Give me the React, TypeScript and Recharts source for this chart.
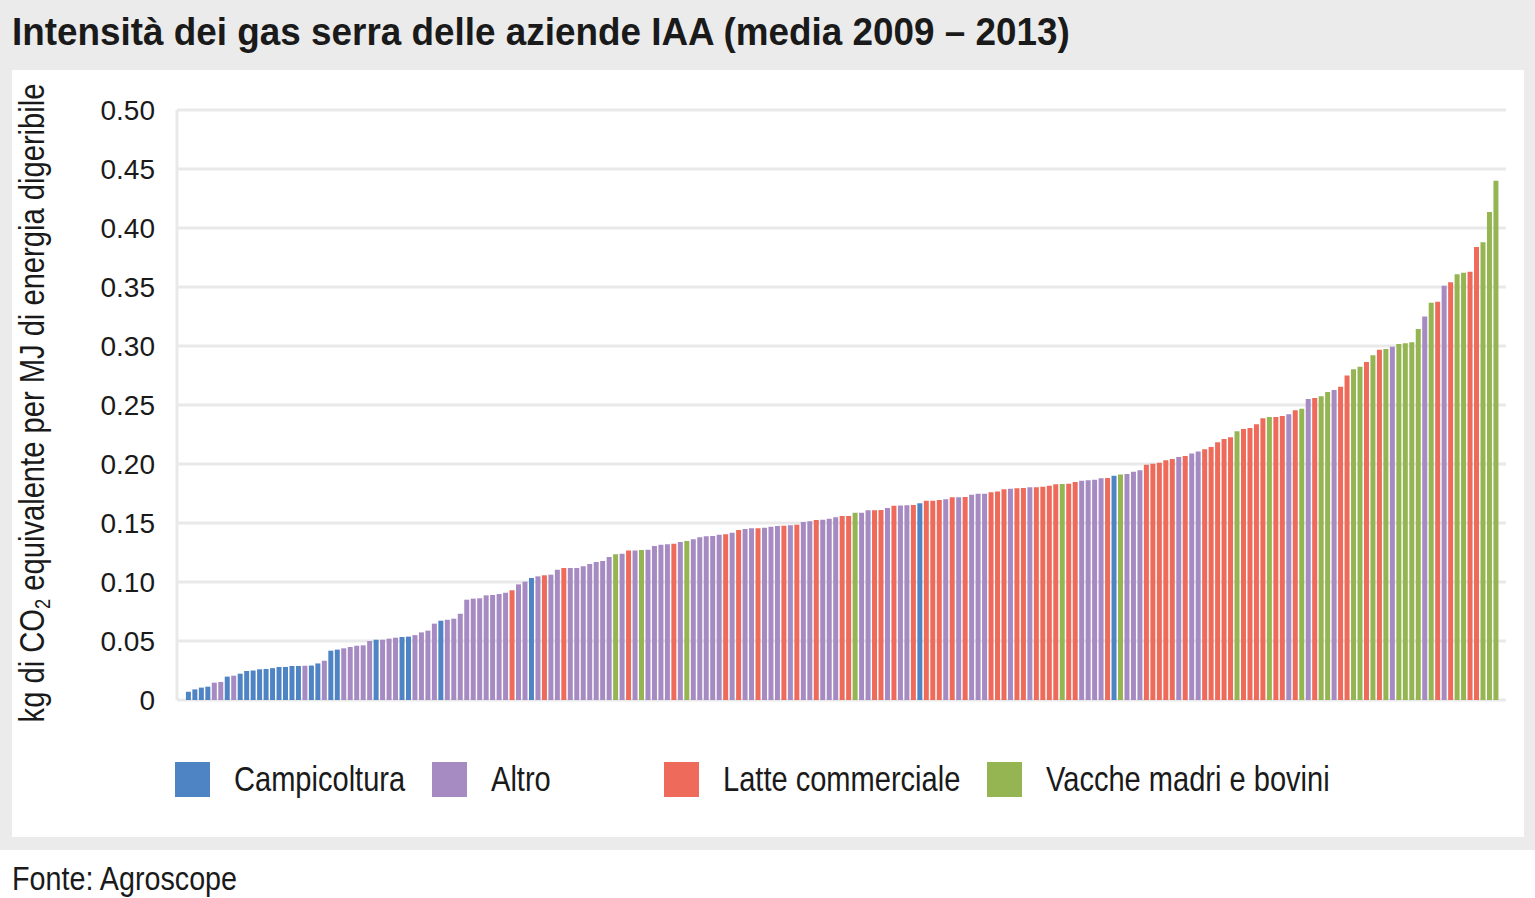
import React from "react";
import { BarChart, Bar, Cell, XAxis, YAxis, CartesianGrid, Label } from "recharts";

// ---- data ----
const GROUP_KEYS = ["C", "A", "L", "V"];
const GROUP_NAMES = ["Campicoltura", "Altro", "Latte commerciale", "Vacche madri e bovini"];
const GROUP_COLORS = ["#4f84c4", "#a68bc3", "#ee6b5b", "#95b553"];

const FARM_GROUP = [
  "C","C","C","C","A","A","C","A","C","C","C","C","C","C","C","C","C","C","A","C",
  "C","A","C","C","A","A","A","A","A","C","A","A","A","C","C","A","A","A","A","C",
  "A","A","A","A","A","A","A","A","A","A","L","A","A","C","A","L","A","A","L","A",
  "A","A","A","A","A","A","V","A","L","A","V","A","A","A","A","L","A","V","A","A",
  "A","A","A","L","A","L","A","A","L","A","A","A","L","A","L","A","A","L","A","A",
  "A","L","L","V","A","A","L","L","A","L","A","A","L","C","L","L","L","A","L","A",
  "L","A","A","A","L","L","L","A","L","L","A","L","L","L","L","V","L","L","A","A",
  "A","A","L","C","V","A","A","A","L","L","L","L","L","A","L","A","A","L","L","L",
  "L","L","V","L","L","L","L","V","L","L","A","L","V","A","L","V","V","A","L","L",
  "V","V","L","V","L","V","A","V","V","V","V","A","V","L","A","L","V","V","L","L",
  "V","V","V",
];

const FARM_VALUE = [
  0.0070, 0.0090, 0.0105, 0.0113, 0.0147, 0.0153, 0.0198, 0.0206, 0.0223, 0.0246,
  0.0250, 0.0260, 0.0263, 0.0270, 0.0280, 0.0280, 0.0288, 0.0288, 0.0290, 0.0292,
  0.0310, 0.0333, 0.0418, 0.0427, 0.0438, 0.0449, 0.0460, 0.0463, 0.0500, 0.0511,
  0.0511, 0.0520, 0.0528, 0.0534, 0.0537, 0.0550, 0.0573, 0.0588, 0.0647, 0.0672,
  0.0680, 0.0689, 0.0731, 0.0850, 0.0859, 0.0862, 0.0887, 0.0890, 0.0898, 0.0909,
  0.0930, 0.0980, 0.1003, 0.1034, 0.1048, 0.1057, 0.1062, 0.1104, 0.1119, 0.1119,
  0.1119, 0.1133, 0.1153, 0.1170, 0.1178, 0.1212, 0.1235, 0.1240, 0.1268, 0.1268,
  0.1271, 0.1274, 0.1305, 0.1316, 0.1320, 0.1325, 0.1339, 0.1347, 0.1362, 0.1379,
  0.1387, 0.1390, 0.1401, 0.1404, 0.1418, 0.1441, 0.1449, 0.1455, 0.1455, 0.1460,
  0.1469, 0.1475, 0.1477, 0.1480, 0.1486, 0.1508, 0.1514, 0.1525, 0.1528, 0.1537,
  0.1548, 0.1559, 0.1559, 0.1587, 0.1587, 0.1607, 0.1607, 0.1610, 0.1627, 0.1647,
  0.1649, 0.1651, 0.1653, 0.1667, 0.1689, 0.1689, 0.1695, 0.1701, 0.1718, 0.1718,
  0.1720, 0.1740, 0.1748, 0.1748, 0.1760, 0.1768, 0.1785, 0.1791, 0.1794, 0.1797,
  0.1802, 0.1802, 0.1808, 0.1816, 0.1828, 0.1830, 0.1833, 0.1847, 0.1859, 0.1862,
  0.1867, 0.1879, 0.1881, 0.1901, 0.1912, 0.1915, 0.1935, 0.1946, 0.1994, 0.2003,
  0.2011, 0.2031, 0.2042, 0.2059, 0.2068, 0.2088, 0.2105, 0.2124, 0.2144, 0.2184,
  0.2212, 0.2226, 0.2277, 0.2297, 0.2305, 0.2336, 0.2387, 0.2398, 0.2398, 0.2407,
  0.2421, 0.2455, 0.2469, 0.2551, 0.2559, 0.2574, 0.2610, 0.2627, 0.2655, 0.2751,
  0.2802, 0.2825, 0.2864, 0.2921, 0.2969, 0.2975, 0.2994, 0.3017, 0.3023, 0.3031,
  0.3144, 0.3249, 0.3367, 0.3376, 0.3511, 0.3540, 0.3607, 0.3621, 0.3630, 0.3839,
  0.3879, 0.4136, 0.4401,
];

const Y_TICKS = [0, 0.05, 0.1, 0.15, 0.2, 0.25, 0.3, 0.35, 0.4, 0.45, 0.5];

const TITLE = "Intensità dei gas serra delle aziende IAA (media 2009 – 2013)";
const SOURCE = "Fonte: Agroscope";

// ---- styling ----
const FONT = "'Liberation Sans', Arial, sans-serif";
const TEXT = "#1a1a1a";
const GRID = "#e9e9e9";

const chartData = FARM_VALUE.map((v, i) => ({ id: i + 1, value: v, group: FARM_GROUP[i] }));

const colorOf = (g: string) => GROUP_COLORS[GROUP_KEYS.indexOf(g)];

const AxisTitle = (props: any) => {
  const vb = props.viewBox || { x: 77, y: 110, width: 100, height: 590 };
  const cx = 44;
  const cy = vb.y + vb.height / 2 - 2;
  return (
    <text
      x={cx}
      y={cy}
      transform={`rotate(-90, ${cx}, ${cy}) translate(${cx}, ${cy}) scale(0.833, 1) translate(${-cx}, ${-cy})`}
      textAnchor="middle"
      fill={TEXT}
      style={{ fontFamily: FONT, fontSize: 35 }}
    >
      <tspan>kg di CO</tspan>
      <tspan fontSize={22} dy={6}>2</tspan>
      <tspan dy={-6}> equivalente per MJ di energia digeribile</tspan>
    </text>
  );
};

const LEGEND_X = [175, 432, 664, 987];

const Squeezed = ({ scale, children }: { scale: number; children: React.ReactNode }) => (
  <span style={{ display: "inline-block", transform: `scaleX(${scale})`, transformOrigin: "left center" }}>
    {children}
  </span>
);

export default function App() {
  return (
    <div
      style={{
        position: "absolute",
        left: 0,
        top: 0,
        width: 1535,
        height: 898,
        background: "#ffffff",
        overflow: "hidden",
        fontFamily: FONT,
        color: TEXT,
      }}
    >
      <div style={{ position: "absolute", left: 0, top: 0, width: 1535, height: 850, background: "#ebebeb" }} />
      <div
        style={{
          position: "absolute",
          left: 12,
          top: 13,
          fontSize: 38,
          lineHeight: "38px",
          fontWeight: 700,
          whiteSpace: "nowrap",
        }}
      >
        <Squeezed scale={0.97}>{TITLE}</Squeezed>
      </div>
      <div style={{ position: "absolute", left: 12, top: 70, width: 1512, height: 767, background: "#ffffff" }} />
      <div style={{ position: "absolute", left: 0, top: 0 }}>
        <BarChart
          width={1535}
          height={850}
          data={chartData}
          margin={{ top: 110, right: 29, bottom: 150, left: 77 }}
          barCategoryGap="14%"
        >
          <CartesianGrid vertical={false} stroke={GRID} strokeWidth={3} />
          <XAxis dataKey="id" type="category" hide padding={{ left: 8, right: 7 }} />
          <YAxis
            domain={[0, 0.5]}
            ticks={Y_TICKS}
            interval={0}
            width={100}
            tickLine={false}
            tickSize={0}
            tickMargin={22}
            axisLine={{ stroke: GRID, strokeWidth: 3 }}
            tickFormatter={(v: number) => (v === 0 ? "0" : v.toFixed(2))}
            tick={{ fill: TEXT, fontSize: 28, fontFamily: FONT }}
          >
            <Label content={<AxisTitle />} />
          </YAxis>
          <YAxis
            yAxisId="frame"
            orientation="right"
            domain={[0, 0.5]}
            width={0}
            tick={false}
            tickLine={false}
            axisLine={{ stroke: GRID, strokeWidth: 3 }}
          />
          <Bar dataKey="value" isAnimationActive={false}>
            {chartData.map((d) => (
              <Cell key={d.id} fill={colorOf(d.group)} />
            ))}
          </Bar>
        </BarChart>
      </div>
      {GROUP_NAMES.map((name, i) => (
        <div key={name}>
          <div
            style={{
              position: "absolute",
              left: LEGEND_X[i],
              top: 762,
              width: 35,
              height: 35,
              background: GROUP_COLORS[i],
            }}
          />
          <div
            style={{
              position: "absolute",
              left: LEGEND_X[i] + 59,
              top: 761,
              fontSize: 35,
              lineHeight: "35px",
              whiteSpace: "nowrap",
            }}
          >
            <Squeezed scale={0.83}>{name}</Squeezed>
          </div>
        </div>
      ))}
      <div
        style={{
          position: "absolute",
          left: 12,
          top: 862,
          fontSize: 33,
          lineHeight: "33px",
          whiteSpace: "nowrap",
        }}
      >
        <Squeezed scale={0.87}>{SOURCE}</Squeezed>
      </div>
    </div>
  );
}
